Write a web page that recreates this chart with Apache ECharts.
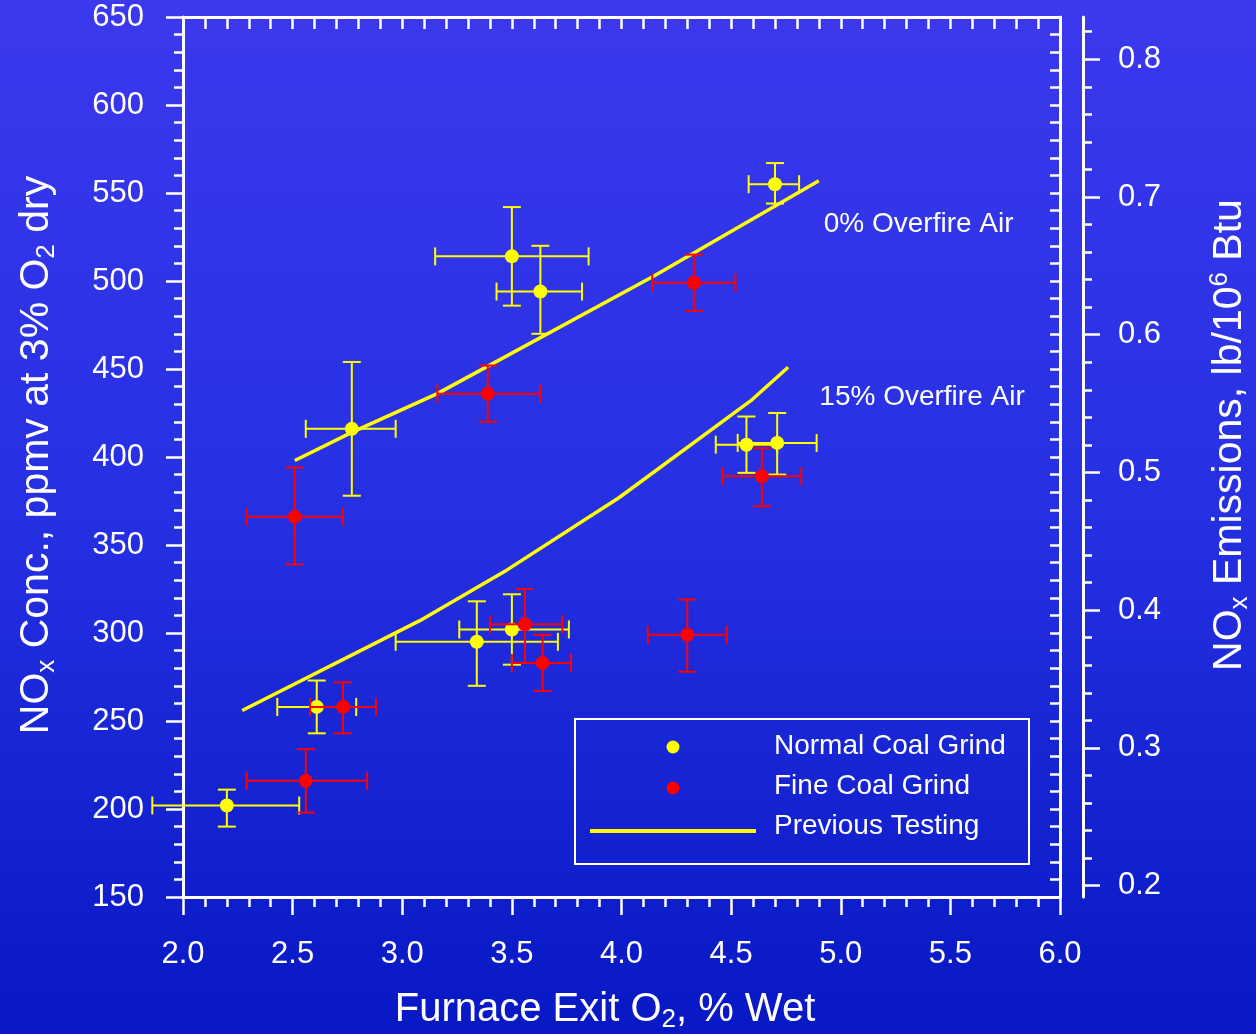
<!DOCTYPE html>
<html>
<head>
<meta charset="utf-8">
<script src="https://cdn.jsdelivr.net/npm/echarts@6/dist/echarts.min.js"></script>
<style>
  html, body { margin: 0; padding: 0; }
  #chart { width: 1256px; height: 1034px; }
</style>
</head>
<body>
<div id="chart"></div>
<script>
// [O2 %, NOx ppm, O2 low, O2 high, NOx low, NOx high]
const normalGrind = [
  [2.20, 202, 1.86, 2.53, 190, 211],
  [2.61, 258, 2.43, 2.79, 243, 273],
  [2.77, 416, 2.56, 2.97, 378, 454],
  [3.50, 514, 3.15, 3.85, 486, 542],
  [3.63, 494, 3.43, 3.82, 470, 520],
  [4.70, 555, 4.58, 4.81, 544, 567],
  [4.57, 407, 4.43, 4.71, 391, 423],
  [4.71, 408, 4.53, 4.89, 390, 425],
  [3.34, 295, 2.97, 3.71, 270, 318],
  [3.50, 302, 3.26, 3.76, 282, 322]
];
const fineGrind = [
  [2.51, 366, 2.29, 2.73, 339, 394],
  [3.39, 436, 3.16, 3.63, 420, 452],
  [4.33, 499, 4.14, 4.52, 483, 515],
  [4.64, 389, 4.46, 4.82, 372, 405],
  [4.30, 299, 4.12, 4.48, 278, 319],
  [3.56, 305, 3.40, 3.73, 283, 325],
  [3.64, 283, 3.50, 3.77, 267, 299],
  [2.73, 258, 2.58, 2.88, 243, 272],
  [2.56, 216, 2.29, 2.84, 198, 234]
];
// previous testing curves
const ofa0Line = [[2.51, 398], [2.77, 414], [3.16, 436], [4.15, 503], [4.90, 557]];
const ofa15Line = [[2.27, 256], [3.08, 307], [3.48, 336], [3.99, 377], [4.59, 432], [4.76, 451]];
const overfireNotes = [
  { name: "0% Overfire Air", value: [4.92, 532] },
  { name: "15% Overfire Air", value: [4.90, 434] }
];
// right axis (lb/10^6 Btu)
const lbPerPpm = 0.001278;
const rightMajorTicks = [0.2, 0.3, 0.4, 0.5, 0.6, 0.7, 0.8];
const rightMinorTicks = [0.2, 0.22, 0.24, 0.26, 0.28, 0.3, 0.32, 0.34, 0.36, 0.38, 0.4, 0.42, 0.44, 0.46, 0.48,
  0.5, 0.52, 0.54, 0.56, 0.58, 0.6, 0.62, 0.64, 0.66, 0.68, 0.7, 0.72, 0.74, 0.76, 0.78, 0.8, 0.82];

const FONT = "'Liberation Sans', Arial, sans-serif";
const WHITE = "#ffffff";

function errorBars(color) {
  return function (params, api) {
    let x = api.value(0), y = api.value(1);
    let xl = api.coord([api.value(2), y]);
    let xh = api.coord([api.value(3), y]);
    let yl = api.coord([x, api.value(4)]);
    let yh = api.coord([x, api.value(5)]);
    let c = 9;
    let style = { stroke: color, lineWidth: 2 };
    let seg = (x1, y1, x2, y2) => ({ type: "line", shape: { x1, y1, x2, y2 }, style });
    return {
      type: "group",
      children: [
        seg(xl[0], xl[1], xh[0], xh[1]),
        seg(yl[0], yl[1], yh[0], yh[1]),
        seg(xl[0], xl[1] - c, xl[0], xl[1] + c),
        seg(xh[0], xh[1] - c, xh[0], xh[1] + c),
        seg(yl[0] - c, yl[1], yl[0] + c, yl[1]),
        seg(yh[0] - c, yh[1], yh[0] + c, yh[1])
      ]
    };
  };
}

let chart = echarts.init(document.getElementById("chart"));
let option = {
  animation: false,
  backgroundColor: {
    type: "linear", x: 0, y: 0, x2: 0, y2: 1,
    colorStops: [
      { offset: 0, color: "#3c38ee" },
      { offset: 0.5, color: "#2530e2" },
      { offset: 1, color: "#0818c4" }
    ]
  },
  grid: { left: 183, right: 196, top: 17, bottom: 137, outerBoundsMode: "none" },
  xAxis: [
    {
      type: "value", position: "bottom", min: 2, max: 6, interval: 0.5,
      axisLine: { lineStyle: { color: WHITE, width: 3 } },
      axisTick: { show: true, inside: false, length: 18, lineStyle: { color: WHITE, width: 2.5 } },
      minorTick: { show: true, splitNumber: 5, length: 10, lineStyle: { color: WHITE, width: 2.5 } },
      axisLabel: { color: WHITE, fontSize: 31, fontFamily: FONT, margin: 42, formatter: v => v.toFixed(1) },
      splitLine: { show: false }
    },
    {
      type: "value", position: "top", min: 2, max: 6, interval: 0.1,
      axisLine: { lineStyle: { color: WHITE, width: 3 } },
      axisTick: { show: true, inside: true, length: 12, lineStyle: { color: WHITE, width: 2.5 } },
      axisLabel: { show: false },
      splitLine: { show: false }
    }
  ],
  yAxis: [
    {
      type: "value", position: "left", min: 150, max: 650, interval: 50,
      axisLine: { show: true, lineStyle: { color: WHITE, width: 3 } },
      axisTick: { show: true, inside: false, length: 17, lineStyle: { color: WHITE, width: 2.5 } },
      minorTick: { show: true, splitNumber: 5, length: 9, lineStyle: { color: WHITE, width: 2.5 } },
      axisLabel: { color: WHITE, fontSize: 31, fontFamily: FONT, margin: 39 },
      splitLine: { show: false }
    },
    {
      type: "value", position: "right", offset: 0, min: 150, max: 650, interval: 10,
      axisLine: { show: true, lineStyle: { color: WHITE, width: 3 } },
      axisTick: { show: true, inside: true, length: 10, lineStyle: { color: WHITE, width: 2.5 } },
      axisLabel: { show: false },
      splitLine: { show: false }
    },
    {
      type: "value", position: "right", offset: 23,
      min: 150 * lbPerPpm, max: 650 * lbPerPpm,
      axisLine: { show: true, lineStyle: { color: WHITE, width: 3 } },
      axisTick: { show: true, inside: false, length: 17, customValues: rightMajorTicks, lineStyle: { color: WHITE, width: 2.5 } },
      axisLabel: { color: WHITE, fontSize: 31, fontFamily: FONT, margin: 35, customValues: rightMajorTicks, formatter: v => v.toFixed(1) },
      splitLine: { show: false }
    },
    {
      type: "value", position: "right", offset: 23,
      min: 150 * lbPerPpm, max: 650 * lbPerPpm,
      axisLine: { show: false },
      axisTick: { show: true, inside: false, length: 9, customValues: rightMinorTicks, lineStyle: { color: WHITE, width: 2.5 } },
      axisLabel: { show: false },
      splitLine: { show: false }
    }
  ],
  series: [
    {
      name: "Previous Testing 0%", type: "line", data: ofa0Line,
      showSymbol: false, lineStyle: { color: "#ffff00", width: 3.5 }, z: 2
    },
    {
      name: "Previous Testing 15%", type: "line", data: ofa15Line,
      showSymbol: false, lineStyle: { color: "#ffff00", width: 3.5 }, z: 2
    },
    {
      name: "Normal Coal Grind bars", type: "custom", data: normalGrind,
      renderItem: errorBars("#ffff00"), encode: { x: 0, y: 1 }, clip: false, z: 3
    },
    {
      name: "Normal Coal Grind", type: "scatter", data: normalGrind,
      encode: { x: 0, y: 1 }, symbol: "circle", symbolSize: 14,
      itemStyle: { color: "#ffff00", opacity: 1 }, z: 4
    },
    {
      name: "Fine Coal Grind bars", type: "custom", data: fineGrind,
      renderItem: errorBars("#ff0000"), encode: { x: 0, y: 1 }, clip: false, z: 5
    },
    {
      name: "Fine Coal Grind", type: "scatter", data: fineGrind,
      encode: { x: 0, y: 1 }, symbol: "circle", symbolSize: 14,
      itemStyle: { color: "#ff0000", opacity: 1 }, z: 6
    },
    {
      name: "notes", type: "scatter", data: overfireNotes, symbolSize: 1, silent: true,
      itemStyle: { color: "rgba(0,0,0,0)", opacity: 1 },
      label: {
        show: true, position: "right", distance: 0, formatter: p => p.name,
        color: WHITE, fontSize: 28, fontFamily: FONT, opacity: 1, textBorderWidth: 0
      },
      z: 7
    }
  ],
  graphic: [
    {
      type: "text", x: 605, y: 1010,
      style: {
        text: "{t|Furnace Exit O}{s|2}{t|, % Wet}",
        fill: WHITE, textAlign: "center", textVerticalAlign: "middle",
        rich: {
          t: { fontSize: 40, fontFamily: FONT, lineHeight: 46, fill: WHITE },
          s: { fontSize: 26, fontFamily: FONT, lineHeight: 30, verticalAlign: "bottom", fill: WHITE }
        }
      }
    },
    {
      type: "text", x: 37, y: 455, rotation: Math.PI / 2,
      style: {
        text: "{t|NO}{s|x}{t| Conc., ppmv at 3% O}{s|2}{t| dry}",
        fill: WHITE, textAlign: "center", textVerticalAlign: "middle",
        rich: {
          t: { fontSize: 41, fontFamily: FONT, lineHeight: 46, fill: WHITE },
          s: { fontSize: 26, fontFamily: FONT, lineHeight: 30, verticalAlign: "bottom", fill: WHITE }
        }
      }
    },
    {
      type: "text", x: 1230, y: 435, rotation: Math.PI / 2,
      style: {
        text: "{t|NO}{s|x}{t| Emissions, lb/10}{p|6}{t| Btu}",
        fill: WHITE, textAlign: "center", textVerticalAlign: "middle",
        rich: {
          t: { fontSize: 41, fontFamily: FONT, lineHeight: 46, fill: WHITE },
          s: { fontSize: 26, fontFamily: FONT, lineHeight: 30, verticalAlign: "bottom", fill: WHITE },
          p: { fontSize: 26, fontFamily: FONT, lineHeight: 30, verticalAlign: "top", fill: WHITE }
        }
      }
    },
    // legend box
    {
      type: "rect", shape: { x: 575, y: 719, width: 454, height: 145 },
      style: { fill: "none", stroke: WHITE, lineWidth: 2 }
    },
    { type: "circle", shape: { cx: 673, cy: 747, r: 6.5 }, style: { fill: "#ffff00" } },
    { type: "circle", shape: { cx: 673, cy: 788, r: 6.5 }, style: { fill: "#ff0000" } },
    {
      type: "line", shape: { x1: 590, y1: 831, x2: 756, y2: 831 },
      style: { stroke: "#ffff00", lineWidth: 4 }
    },
    {
      type: "text", x: 774, y: 746,
      style: { text: "Normal Coal Grind", fill: WHITE, font: "28px " + FONT, textVerticalAlign: "middle" }
    },
    {
      type: "text", x: 774, y: 786,
      style: { text: "Fine Coal Grind", fill: WHITE, font: "28px " + FONT, textVerticalAlign: "middle" }
    },
    {
      type: "text", x: 774, y: 826,
      style: { text: "Previous Testing", fill: WHITE, font: "28px " + FONT, textVerticalAlign: "middle" }
    }
  ]
};
chart.setOption(option);
</script>
</body>
</html>
